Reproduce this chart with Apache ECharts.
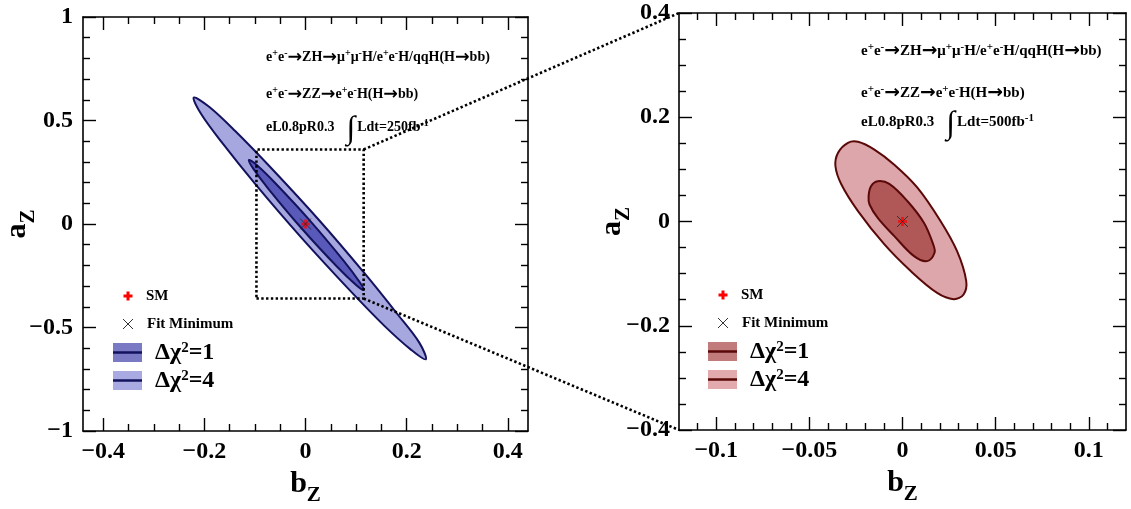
<!DOCTYPE html>
<html><head><meta charset="utf-8">
<script src="https://cdn.jsdelivr.net/npm/echarts@6/dist/echarts.min.js"></script>
<style>html,body{margin:0;padding:0;background:#fff}#c{width:1131px;height:509px}</style>
</head><body><div id="c"></div>
<script>
// ---------------- DATA ----------------
// Left panel (250 fb^-1): contour vertices [bZ, aZ]
const leftChi2_4 = [[-0.221,0.611],[-0.190,0.565],[-0.139,0.449],[-0.067,0.268],[0.027,0.018],[0.117,-0.239],[0.182,-0.436],[0.225,-0.573],[0.238,-0.654],[0.209,-0.608],[0.156,-0.492],[0.084,-0.311],[-0.010,-0.061],[-0.100,0.195],[-0.165,0.393],[-0.206,0.530]];
const leftChi2_1 = [[-0.112,0.309],[-0.097,0.286],[-0.060,0.198],[0.010,0.013],[0.076,-0.179],[0.107,-0.280],[0.115,-0.319],[0.100,-0.295],[0.063,-0.208],[-0.007,-0.023],[-0.073,0.169],[-0.104,0.270]];
// Right panel (500 fb^-1)
const rightChi2_4 = [[-0.0360,0.106],[-0.0346,0.132],[-0.0293,0.151],[-0.0239,0.153],[-0.0151,0.138],[-0.0044,0.109],[0.0080,0.065],[0.0204,0.001],[0.0293,-0.057],[0.0342,-0.114],[0.0328,-0.140],[0.0275,-0.149],[0.0186,-0.137],[0.0044,-0.095],[-0.0097,-0.044],[-0.0239,0.020],[-0.0328,0.071]];
const rightChi2_1 = [[-0.0182,0.0485],[-0.0169,0.0676],[-0.0133,0.0772],[-0.0071,0.0722],[0.0027,0.0389],[0.0115,-0.0025],[0.0165,-0.044],[0.0172,-0.060],[0.0133,-0.076],[0.0062,-0.0665],[-0.0044,-0.028],[-0.0133,0.0071],[-0.0177,0.0326]];
const smPoint = [[0, 0]];
const fitMinLeft = [[0, 0]];
const fitMinRight = [[0, 0]];
// zoom box drawn in the left panel
const zoomBoxX = [-0.097, 0.115];
const zoomBoxY = [-0.36, 0.36];

// axis ranges and ticks
const leftXRange = [-0.44, 0.44];
const leftYRange = [-1, 1];
const rightXRange = [-0.12, 0.12];
const rightYRange = [-0.4, 0.4];
const leftXTicks = [-0.4, -0.2, 0, 0.2, 0.4];
const leftXTickLabels = ['\u22120.4', '\u22120.2', '0', '0.2', '0.4'];
const leftXMinor = [-0.35, -0.3, -0.25, -0.15, -0.1, -0.05, 0.05, 0.1, 0.15, 0.25, 0.3, 0.35];
const leftYTicks = [-1, -0.5, 0, 0.5, 1];
const leftYTickLabels = ['\u22121', '\u22120.5', '0', '0.5', '1'];
const leftYMinor = [-0.9, -0.8, -0.7, -0.6, -0.4, -0.3, -0.2, -0.1, 0.1, 0.2, 0.3, 0.4, 0.6, 0.7, 0.8, 0.9];
const rightXTicks = [-0.1, -0.05, 0, 0.05, 0.1];
const rightXTickLabels = ['\u22120.1', '\u22120.05', '0', '0.05', '0.1'];
const rightXMinor = [-0.11, -0.09, -0.08, -0.07, -0.06, -0.04, -0.03, -0.02, -0.01, 0.01, 0.02, 0.03, 0.04, 0.06, 0.07, 0.08, 0.09, 0.11];
const rightYTicks = [-0.4, -0.2, 0, 0.2, 0.4];
const rightYTickLabels = ['\u22120.4', '\u22120.2', '0', '0.2', '0.4'];
const rightYMinor = [-0.35, -0.3, -0.25, -0.15, -0.1, -0.05, 0.05, 0.1, 0.15, 0.25, 0.3, 0.35];

// texts
const procLine1 = '{t|e}{s|+}{t|e}{s|-}{a|\u2192}{t|ZH}{a|\u2192}{t|\u03bc}{s|+}{t|\u03bc}{s|-}{t|H/e}{s|+}{t|e}{s|-}{t|H/qqH(H}{a|\u2192}{t|bb)}';
const procLine2 = '{t|e}{s|+}{t|e}{s|-}{a|\u2192}{t|ZZ}{a|\u2192}{t|e}{s|+}{t|e}{s|-}{t|H(H}{a|\u2192}{t|bb)}';
const lumiLeft = '{t|eL0.8pR0.3}{i|\u222b}{t|Ldt=250fb}{s|-1}';
const lumiRight = '{t|eL0.8pR0.3}{i|\u222b}{t|Ldt=500fb}{s|-1}';
const legendSM = 'SM';
const legendFit = 'Fit Minimum';
const legendChi1 = '{d|\u0394\u03c7}{q|2}{d|=1}';
const legendChi4 = '{d|\u0394\u03c7}{q|2}{d|=4}';

// ---------------- STYLE ----------------
const FONT = '"Liberation Serif", "Times New Roman", serif';
const blue = {light: '#a7a7df', dark: '#5959ba', line: '#12125e', legDark: '#7a7ac4', legLight: '#aaaae2'};
const red = {light: '#dda6aa', dark: '#b05858', line: '#5a0808', legDark: '#c27b7b', legLight: '#e2aaad'};

const chart = echarts.init(document.getElementById('c'), null, {renderer: 'canvas'});

function labelFmt(ticks, labels) {
  return function (v) {
    for (let i = 0; i < ticks.length; i++) if (Math.abs(ticks[i] - v) < 1e-9) return labels[i];
    return '';
  };
}
const nameRich = {
  m: {fontFamily: FONT, fontWeight: 'bold', fontSize: 30, lineHeight: 44, color: '#000'},
  s: {fontFamily: FONT, fontWeight: 'bold', fontSize: 21, lineHeight: 21, verticalAlign: 'bottom', color: '#000'}
};
const lineStyle = {color: '#000', width: 1.6};
const tickStyle = {color: '#000', width: 1.4};
const labelStyle = {fontFamily: FONT, fontWeight: 'bold', fontSize: 24, color: '#000'};

function makeAxes(dim, g, range, majors, minors, labels, name, nameGap, margin) {
  const common = {gridIndex: g, type: 'value', min: range[0], max: range[1], splitLine: {show: false}, silent: true};
  const p1 = dim === 'x' ? 'bottom' : 'left';
  const p2 = dim === 'x' ? 'top' : 'right';
  const main = Object.assign({}, common, {
    position: p1,
    axisLine: {show: true, onZero: false, lineStyle},
    axisTick: {show: true, inside: true, length: 13, customValues: majors, lineStyle: tickStyle},
    axisLabel: Object.assign({show: true, customValues: majors, formatter: labelFmt(majors, labels), margin}, labelStyle),
    name, nameLocation: 'middle', nameGap, nameTextStyle: {rich: nameRich}
  });
  if (dim === 'y') { main.nameRotate = 90; main.nameMoveOverlap = false; }
  return [
    main,
    Object.assign({}, common, {position: p1, axisLine: {show: false, onZero: false}, axisTick: {show: true, inside: true, length: 7, customValues: minors, lineStyle: tickStyle}, axisLabel: {show: false}}),
    Object.assign({}, common, {position: p2, axisLine: {show: true, onZero: false, lineStyle}, axisTick: {show: true, inside: true, length: 13, customValues: majors, lineStyle: tickStyle}, axisLabel: {show: false}}),
    Object.assign({}, common, {position: p2, axisLine: {show: false, onZero: false}, axisTick: {show: true, inside: true, length: 7, customValues: minors, lineStyle: tickStyle}, axisLabel: {show: false}})
  ];
}

function contour(pts, xi, yi, fill, stroke, z) {
  return {
    type: 'custom', xAxisIndex: xi, yAxisIndex: yi, data: pts, z, silent: true,
    renderItem: function (params, api) {
      if (params.dataIndex !== 0) return null;
      const p = pts.map(d => api.coord(d));
      return {type: 'polygon', shape: {points: p, smooth: 0.35}, style: {fill, stroke, lineWidth: 2}};
    }
  };
}
const plusPath = 'path://M3.5,0H6.5V3.5H10V6.5H6.5V10H3.5V6.5H0V3.5H3.5Z';
const crossPath = 'path://M0,0L10,10M10,0L0,10';
function markers(xi, yi, fit) {
  return [
    {type: 'scatter', xAxisIndex: xi, yAxisIndex: yi, data: smPoint, symbol: plusPath, symbolSize: 9, itemStyle: {color: '#ff0000'}, z: 20, silent: true},
    {type: 'scatter', xAxisIndex: xi, yAxisIndex: yi, data: fit, symbol: crossPath, symbolSize: 11, itemStyle: {color: 'rgba(0,0,0,0)', borderColor: '#222', borderWidth: 1}, z: 21, silent: true}
  ];
}

const option = {
  animation: false,
  backgroundColor: '#fff',
  grid: [
    {left: 83, top: 17, width: 445, height: 414, containLabel: false, outerBoundsMode: 'none'},
    {left: 679, top: 13, width: 447, height: 417, containLabel: false, outerBoundsMode: 'none'}
  ],
  xAxis: [].concat(
    makeAxes('x', 0, leftXRange, leftXTicks, leftXMinor, leftXTickLabels, '{m|b}{s|Z}', 29, 9),
    makeAxes('x', 1, rightXRange, rightXTicks, rightXMinor, rightXTickLabels, '{m|b}{s|Z}', 30, 9)
  ),
  yAxis: [].concat(
    makeAxes('y', 0, leftYRange, leftYTicks, leftYMinor, leftYTickLabels, '{m|a}{s|Z}', 44, 10),
    makeAxes('y', 1, rightYRange, rightYTicks, rightYMinor, rightYTickLabels, '{m|a}{s|Z}', 45, 9)
  ),
  series: [
    contour(leftChi2_4, 0, 0, blue.light, blue.line, 5),
    contour(leftChi2_1, 0, 0, blue.dark, blue.line, 6),
    contour(rightChi2_4, 4, 4, red.light, red.line, 5),
    contour(rightChi2_1, 4, 4, red.dark, red.line, 6),
    {
      type: 'line', xAxisIndex: 0, yAxisIndex: 0, silent: true, z: 10, showSymbol: false, symbol: 'none',
      data: [[zoomBoxX[0], zoomBoxY[0]], [zoomBoxX[1], zoomBoxY[0]], [zoomBoxX[1], zoomBoxY[1]], [zoomBoxX[0], zoomBoxY[1]], [zoomBoxX[0], zoomBoxY[0]]],
      lineStyle: {color: '#000', width: 2.6, type: [2.4, 2.4]}
    }
  ].concat(markers(0, 0, fitMinLeft), markers(4, 4, fitMinRight))
};
chart.setOption(option);

// ---------------- GRAPHIC (texts, legends, connectors) ----------------
function richText(fs) {
  return {
    t: {fontFamily: FONT, fontWeight: 'bold', fontSize: fs, color: '#000'},
    a: {fontFamily: '"DejaVu Sans", sans-serif', fontWeight: 'bold', fontSize: fs * 1.25, color: '#000'},
    s: {fontFamily: FONT, fontWeight: 'bold', fontSize: Math.round(fs * 0.7), padding: [0, 0, 8, 0], color: '#000'},
    i: {fontFamily: FONT, fontSize: 32, padding: [6, 2, 0, 12], color: '#000'}
  };
}
function textEl(x, y, text, rich) {
  return {type: 'text', x, y, z: 30, silent: true, style: {text, rich, verticalAlign: 'middle', align: 'left'}};
}
const legRich = {
  d: {fontFamily: FONT, fontWeight: 'bold', fontSize: 24, color: '#000'},
  q: {fontFamily: FONT, fontWeight: 'bold', fontSize: 15, padding: [0, 0, 9, 0], color: '#000'}
};
function legend(px, py, sx, c) {
  const els = [];
  els.push({type: 'rect', shape: {x: px - 4.5, y: py - 1.5, width: 9, height: 3}, style: {fill: '#ff0000'}, z: 30, silent: true});
  els.push({type: 'rect', shape: {x: px - 1.5, y: py - 4.5, width: 3, height: 9}, style: {fill: '#ff0000'}, z: 30, silent: true});
  els.push({type: 'text', x: px + 18, y: py, z: 30, silent: true, style: {text: legendSM, font: 'bold 15px ' + FONT, fill: '#000', verticalAlign: 'middle'}});
  els.push({type: 'polyline', shape: {points: [[px - 5, py + 23], [px + 5, py + 33]]}, style: {stroke: '#333', lineWidth: 1}, z: 30, silent: true});
  els.push({type: 'polyline', shape: {points: [[px + 5, py + 23], [px - 5, py + 33]]}, style: {stroke: '#333', lineWidth: 1}, z: 30, silent: true});
  els.push({type: 'text', x: px + 19, y: py + 28, z: 30, silent: true, style: {text: legendFit, font: 'bold 15px ' + FONT, fill: '#000', verticalAlign: 'middle'}});
  const rows = [[py + 56.5, c.legDark, legendChi1], [py + 84.5, c.legLight, legendChi4]];
  rows.forEach(r => {
    els.push({type: 'rect', shape: {x: sx, y: r[0] - 9.5, width: 29, height: 19}, style: {fill: r[1]}, z: 30, silent: true});
    els.push({type: 'line', shape: {x1: sx, y1: r[0], x2: sx + 29, y2: r[0]}, style: {stroke: c.line, lineWidth: 2.5}, z: 31, silent: true});
    els.push({type: 'text', x: sx + 42, y: r[0], z: 30, silent: true, style: {text: r[2], rich: legRich, verticalAlign: 'middle'}});
  });
  return els;
}

const pBoxTop = chart.convertToPixel({xAxisIndex: 0, yAxisIndex: 0}, [zoomBoxX[1], zoomBoxY[1]]);
const pBoxBot = chart.convertToPixel({xAxisIndex: 0, yAxisIndex: 0}, [zoomBoxX[1], zoomBoxY[0]]);
const pRTop = chart.convertToPixel({xAxisIndex: 4, yAxisIndex: 4}, [rightXRange[0], rightYRange[1]]);
const pRBot = chart.convertToPixel({xAxisIndex: 4, yAxisIndex: 4}, [rightXRange[0], rightYRange[0]]);
const dash = {stroke: '#000', lineWidth: 2.6, lineDash: [2.4, 2.4]};

const graphics = [
  textEl(266, 57, procLine1, richText(14)),
  textEl(266, 94, procLine2, richText(14)),
  textEl(266, 127, lumiLeft, richText(14)),
  textEl(861, 51, procLine1, richText(15)),
  textEl(861, 93, procLine2, richText(15)),
  textEl(861, 122, lumiRight, richText(15)),
  {type: 'line', z: 40, silent: true, shape: {x1: pBoxTop[0], y1: pBoxTop[1], x2: pRTop[0], y2: pRTop[1]}, style: dash},
  {type: 'line', z: 40, silent: true, shape: {x1: pBoxBot[0], y1: pBoxBot[1], x2: pRBot[0], y2: pRBot[1]}, style: dash}
].concat(legend(128, 296, 113, blue), legend(723, 295, 708, red));

chart.setOption({graphic: graphics});
</script></body></html>
